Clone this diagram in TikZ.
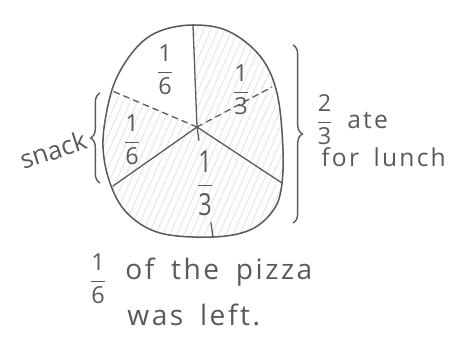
\documentclass[tikz,border=0pt]{standalone}
\usepackage{amsmath}
\usepackage{fontspec}
\setmainfont{Open Sans}
\newfontfamily\handfont[LetterSpace=9, WordSpace=1.7]{Open Sans}
\usetikzlibrary{calc, decorations.pathreplacing}

\definecolor{pencil}{HTML}{5A5A5A}
\newcommand{\piece}[2]{{\fontsize{20}{24}\selectfont$\dfrac{\text{#1}}{\text{#2}}$}}

\begin{document}
\begin{tikzpicture}[
    x=0.03cm, y=-0.03cm,
    crust/.style={draw=pencil, line width=1.3pt, line join=round},
    cut/.style={draw=pencil, line width=1.1pt, line cap=round},
    halfcut/.style={cut, dashed, dash pattern=on 5pt off 4pt},
    hatch/.style={draw=gray!25, line width=0.6pt},
    brace/.style={draw=pencil, line width=1.2pt, decorate, decoration={brace, amplitude=8pt}},
    frac/.style={text=pencil, inner sep=0pt},
    hand/.style={text=pencil, font=\handfont\fontsize{24}{28}\selectfont, inner sep=1pt},
    note/.style={hand, font=\handfont\fontsize{21}{25}\selectfont},
    tag/.style={text=pencil, font=\fontsize{22}{26}\selectfont, inner sep=1pt}
]
\useasboundingbox (0,0) rectangle (457,337);

% Pizza centre and cut ends
\coordinate (mid) at (197,127);
\coordinate (top) at (193,26);
\coordinate (lowright) at (282,183);
\coordinate (lowleft) at (113,186);
\coordinate (dashleft) at (110,90);
\coordinate (dashright) at (272,87);
\coordinate (bottom) at (213,237);

% Hatching on the eaten part
\begin{scope}
  \clip plot[smooth cycle, tension=0.6] coordinates {(193,25) (228,31) (260,56) (277,93) (283,150) (281,190) (272,212) (250,230) (213,237) (160,233) (127,213) (110,183) (103,147) (107,110) (117,77) (137,47) (160,31)};
  \clip (mid) -- (190,-20) -- (360,-20) -- (360,320) -- (30,320) -- (30,52) -- cycle;
  \foreach \i in {-40,-33,...,300}
    \draw[hatch] (\i,250) -- ({\i+110},0);
\end{scope}

% Crust
\draw[crust] plot[smooth cycle, tension=0.6] coordinates {(193,25) (228,31) (260,56) (277,93) (283,150) (281,190) (272,212) (250,230) (213,237) (160,233) (127,213) (110,183) (103,147) (107,110) (117,77) (137,47) (160,31)};

% Cuts
\draw[cut] (mid) -- (top);
\draw[cut] (mid) -- (lowright);
\draw[cut] (mid) -- (lowleft);
\draw[halfcut] (mid) -- (dashleft);
\draw[halfcut] (mid) -- (dashright);
\draw[cut] (mid) -- ($(mid)!0.12!(bottom)$);
\draw[cut] ($(mid)!0.87!(bottom)$) -- (bottom);

% Slice labels
\node[frac] (sixthtop) at (165,70) {\piece{1}{6}};
\node[frac] (sixthleft) at (132,140) {\piece{1}{6}};
\node[frac] (thirdright) at (241,90) {\piece{1}{3}};
\node[frac, yscale=1.3] (thirdbottom) at (205,183) {\piece{1}{3}};

% Braces
\draw[brace] (293,45) -- (293,223);
\draw[brace] (100,183) -- (100,93);

% Side notes
\node[tag, rotate=18] (snack) at (53,150) {snack};
\node[note, anchor=west] (ate) at (315,120) {\piece{2}{3} ate};
\node[note, anchor=west] (lunch) at (320,157) {for lunch};

% Bottom note
\node[frac] (lefttxt) at (98,279) {\piece{1}{6}};
\node[hand, anchor=west] (pizza) at (124,272) {of the pizza};
\node[hand, anchor=west] (was) at (126,315) {was left.};

\end{tikzpicture}
\end{document}
